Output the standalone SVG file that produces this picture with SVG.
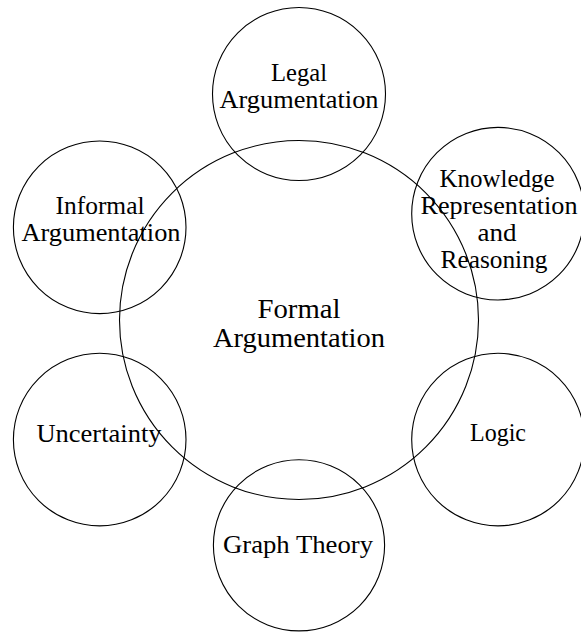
<svg xmlns="http://www.w3.org/2000/svg" width="581" height="632" viewBox="0 0 581 632">
<style>
circle{fill:none;stroke:#000;stroke-width:1.1}
text{font-size:24.5px;fill:#000;text-anchor:middle}
.big{font-size:27px}
</style>
<rect width="581" height="632" fill="#fff"/>
<g font-family="Liberation Serif, serif">
<g id="formal">
<circle cx="299" cy="320" r="179.5"/>
<text class="big" x="299" y="318" textLength="83" lengthAdjust="spacingAndGlyphs">Formal</text>
<text class="big" x="299" y="346.5" textLength="172" lengthAdjust="spacingAndGlyphs">Argumentation</text>
</g>
<g id="legal">
<circle cx="299" cy="94" r="86.5"/>
<text x="299" y="80.5" textLength="56" lengthAdjust="spacingAndGlyphs">Legal</text>
<text x="299" y="107.5" textLength="159" lengthAdjust="spacingAndGlyphs">Argumentation</text>
</g>
<g id="krr">
<circle cx="498" cy="213.7" r="86.3"/>
<text x="497" y="187" textLength="115" lengthAdjust="spacingAndGlyphs">Knowledge</text>
<text x="499" y="214" textLength="157" lengthAdjust="spacingAndGlyphs">Representation</text>
<text x="497" y="241" textLength="39" lengthAdjust="spacingAndGlyphs">and</text>
<text x="494" y="268" textLength="107" lengthAdjust="spacingAndGlyphs">Reasoning</text>
</g>
<g id="informal">
<circle cx="99.7" cy="227.3" r="86.3"/>
<text x="100" y="213.5" textLength="89" lengthAdjust="spacingAndGlyphs">Informal</text>
<text x="101" y="240.5" textLength="159" lengthAdjust="spacingAndGlyphs">Argumentation</text>
</g>
<g id="uncertainty">
<circle cx="99.7" cy="439.6" r="86.3"/>
<text x="99" y="442" textLength="125" lengthAdjust="spacingAndGlyphs">Uncertainty</text>
</g>
<g id="logic">
<circle cx="498" cy="439.6" r="86.3"/>
<text x="498" y="441" textLength="56" lengthAdjust="spacingAndGlyphs">Logic</text>
</g>
<g id="graph">
<circle cx="299" cy="545.3" r="85.6"/>
<text x="298" y="553" textLength="150" lengthAdjust="spacingAndGlyphs">Graph Theory</text>
</g>
</g>
</svg>
